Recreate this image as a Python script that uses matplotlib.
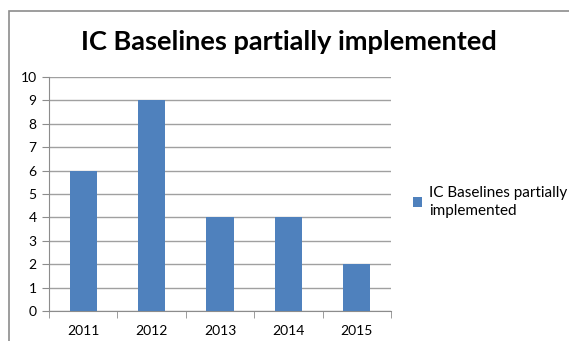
import matplotlib.pyplot as plt
from matplotlib.patches import Rectangle

years = ["2011", "2012", "2013", "2014", "2015"]
counts = [6, 9, 4, 4, 2]
series_name = "IC Baselines partially implemented"

plt.rcParams['font.family'] = ['Lato', 'DejaVu Sans']

fig = plt.figure(figsize=(5.69, 3.41), dpi=100)
ax = fig.add_axes([49 / 569, 1 - 311 / 341, (391 - 49) / 569, (311 - 77) / 341])

# chart border (clipped at right and bottom)
fig.patches.append(Rectangle((8.5 / 569, -0.1), 1.2, 1 - 10.5 / 341 + 0.1,
                             transform=fig.transFigure, fill=False,
                             edgecolor='#8c8c8c', linewidth=1.2))

x = range(len(years))
ax.bar(x, counts, width=0.4, color='#4f81bd', zorder=3, label=series_name)

ax.set_xlim(-0.5, len(years) - 0.5)
ax.set_ylim(0, 10)
ax.set_yticks(range(0, 11))
ax.set_xticks(list(x))
ax.set_xticklabels(years)
ax.set_xticks([i - 0.5 for i in range(len(years) + 1)], minor=True)
ax.tick_params(axis='x', which='major', length=0, pad=10, labelsize=10)
ax.tick_params(axis='x', which='minor', length=5, color='#8c8c8c', direction='out')
ax.tick_params(axis='y', length=5, color='#8c8c8c', labelsize=10, pad=4)

ax.grid(axis='y', color='#a0a0a0', linewidth=1, zorder=0)
for side in ['top', 'right']:
    ax.spines[side].set_visible(False)
for side in ['left', 'bottom']:
    ax.spines[side].set_color('#8c8c8c')

fig.text(289 / 569, 1 - 42 / 341, series_name, ha='center', va='center',
         fontsize=19.5, fontweight='bold')

leg = ax.legend(["IC Baselines partially\nimplemented"], loc='center left',
                bbox_to_anchor=(413 / 569, 1 - 202 / 341), bbox_transform=fig.transFigure,
                frameon=False, fontsize=11, handlelength=0.6, handleheight=0.6,
                handletextpad=0.45, borderpad=0, borderaxespad=0)
for t in leg.get_texts():
    t.set_linespacing(1.35)

fig.savefig("out.png", dpi=100)
